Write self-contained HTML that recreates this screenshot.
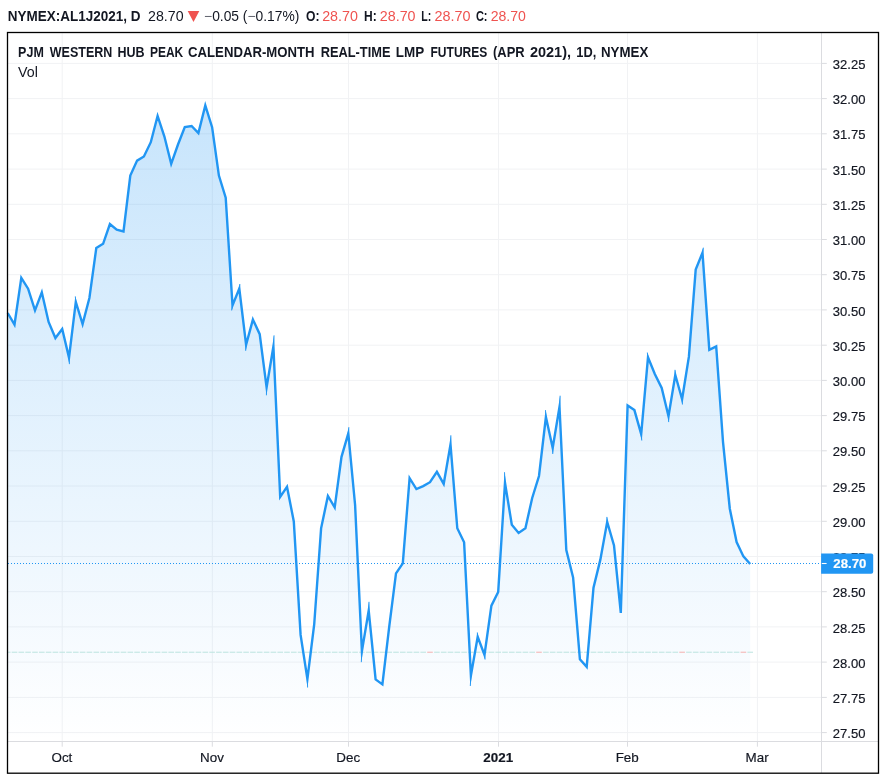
<!DOCTYPE html>
<html lang="en"><head><meta charset="utf-8"><title>NYMEX:AL1J2021</title>
<style>
html,body{margin:0;padding:0;background:#fff;}
body{width:887px;height:781px;overflow:hidden;font-family:"Liberation Sans",sans-serif;}
svg{display:block;will-change:transform}
text{font-family:"Liberation Sans",sans-serif;fill:#131722}
.b{font-weight:bold}
.r{fill:#ef5350}
.ax{font-size:13.4px;stroke:#131722;stroke-width:.18px}
.w{fill:#fff;stroke:#fff}
</style></head><body>
<svg width="887" height="781" viewBox="0 0 887 781">
<defs><linearGradient id="g" x1="0" y1="32" x2="0" y2="742" gradientUnits="userSpaceOnUse">
<stop offset="0" stop-color="#2196f3" stop-opacity="0.28"/><stop offset="1" stop-color="#2196f3" stop-opacity="0"/></linearGradient></defs>
<rect width="887" height="781" fill="#fff"/>

<g stroke="#f1f2f4" stroke-width="1" shape-rendering="auto">
<line x1="7.5" x2="821.5" y1="63.4" y2="63.4"/>
<line x1="7.5" x2="821.5" y1="98.6" y2="98.6"/>
<line x1="7.5" x2="821.5" y1="133.8" y2="133.8"/>
<line x1="7.5" x2="821.5" y1="169.1" y2="169.1"/>
<line x1="7.5" x2="821.5" y1="204.3" y2="204.3"/>
<line x1="7.5" x2="821.5" y1="239.5" y2="239.5"/>
<line x1="7.5" x2="821.5" y1="274.7" y2="274.7"/>
<line x1="7.5" x2="821.5" y1="309.9" y2="309.9"/>
<line x1="7.5" x2="821.5" y1="345.2" y2="345.2"/>
<line x1="7.5" x2="821.5" y1="380.4" y2="380.4"/>
<line x1="7.5" x2="821.5" y1="415.6" y2="415.6"/>
<line x1="7.5" x2="821.5" y1="450.8" y2="450.8"/>
<line x1="7.5" x2="821.5" y1="486.0" y2="486.0"/>
<line x1="7.5" x2="821.5" y1="521.3" y2="521.3"/>
<line x1="7.5" x2="821.5" y1="556.5" y2="556.5"/>
<line x1="7.5" x2="821.5" y1="591.7" y2="591.7"/>
<line x1="7.5" x2="821.5" y1="626.9" y2="626.9"/>
<line x1="7.5" x2="821.5" y1="662.1" y2="662.1"/>
<line x1="7.5" x2="821.5" y1="697.4" y2="697.4"/>
<line x1="7.5" x2="821.5" y1="732.6" y2="732.6"/>
<line x1="62.2" x2="62.2" y1="32.5" y2="741.5"/>
<line x1="212.3" x2="212.3" y1="32.5" y2="741.5"/>
<line x1="348.5" x2="348.5" y1="32.5" y2="741.5"/>
<line x1="498.5" x2="498.5" y1="32.5" y2="741.5"/>
<line x1="627.5" x2="627.5" y1="32.5" y2="741.5"/>
<line x1="757.4" x2="757.4" y1="32.5" y2="741.5"/>
</g>
<path d="M7.7,313.0 L14.5,324.7 L21.3,277.9 L28.1,288.7 L35.0,310.3 L41.8,292.3 L48.6,322.0 L55.4,338.0 L62.2,329.0 L69.0,357.6 L75.8,301.9 L82.6,324.0 L89.4,298.0 L96.3,248.0 L103.1,243.8 L109.9,224.0 L116.7,229.7 L123.5,231.4 L130.3,175.6 L137.1,160.6 L143.9,156.5 L150.8,142.2 L157.6,115.9 L164.4,136.5 L171.2,163.8 L178.0,144.5 L184.8,127.0 L191.6,126.0 L198.4,133.0 L205.3,105.4 L212.1,127.2 L218.9,175.6 L225.7,197.7 L232.5,305.4 L239.3,288.5 L246.1,344.8 L252.9,319.6 L259.7,334.2 L266.6,387.4 L273.4,346.5 L280.2,496.8 L287.0,486.8 L293.8,521.4 L300.6,634.9 L307.4,679.1 L314.2,624.5 L321.1,528.3 L327.9,496.0 L334.7,507.4 L341.5,456.8 L348.3,433.3 L355.1,505.0 L361.9,651.2 L368.7,610.6 L375.6,679.4 L382.4,684.4 L389.2,626.8 L396.0,573.4 L402.8,563.4 L409.6,478.2 L416.4,489.1 L423.2,486.1 L430.0,482.2 L436.9,471.8 L443.7,483.9 L450.5,444.5 L457.3,528.3 L464.1,542.2 L470.9,675.6 L477.7,636.8 L484.5,654.9 L491.4,605.7 L498.2,592.0 L505.0,482.7 L511.8,524.8 L518.6,532.9 L525.4,528.3 L532.2,498.0 L539.0,476.0 L545.9,417.0 L552.7,448.0 L559.5,406.8 L566.3,550.0 L573.1,577.5 L579.9,659.2 L586.7,666.9 L593.5,587.6 L600.3,559.9 L607.2,521.9 L614.0,545.4 L620.8,612.9 L627.6,405.4 L634.4,410.1 L641.2,434.2 L648.0,357.3 L654.8,374.0 L661.7,388.0 L668.5,416.3 L675.3,375.0 L682.1,399.2 L688.9,356.7 L695.7,269.6 L702.5,252.7 L709.3,349.8 L716.2,346.4 L723.0,441.8 L729.8,508.7 L736.6,542.1 L743.4,556.4 L750.2,564.0 L750.2,741.5 L7.7,741.5 Z" fill="url(#g)"/>
<g>
<rect x="7.5" y="651.7" width="3.0" height="1.05" fill="#bfe5e1"/>
<rect x="11.7" y="651.7" width="5.6" height="1.05" fill="#bfe5e1"/>
<rect x="18.5" y="651.7" width="5.6" height="1.05" fill="#bfe5e1"/>
<rect x="25.3" y="651.7" width="5.6" height="1.05" fill="#bfe5e1"/>
<rect x="32.2" y="651.7" width="5.6" height="1.05" fill="#bfe5e1"/>
<rect x="39.0" y="651.7" width="5.6" height="1.05" fill="#bfe5e1"/>
<rect x="45.8" y="651.7" width="5.6" height="1.05" fill="#bfe5e1"/>
<rect x="52.6" y="651.7" width="5.6" height="1.05" fill="#bfe5e1"/>
<rect x="59.4" y="651.7" width="5.6" height="1.05" fill="#bfe5e1"/>
<rect x="66.2" y="651.7" width="5.6" height="1.05" fill="#bfe5e1"/>
<rect x="73.0" y="651.7" width="5.6" height="1.05" fill="#bfe5e1"/>
<rect x="79.8" y="651.7" width="5.6" height="1.05" fill="#bfe5e1"/>
<rect x="86.6" y="651.7" width="5.6" height="1.05" fill="#bfe5e1"/>
<rect x="93.5" y="651.7" width="5.6" height="1.05" fill="#bfe5e1"/>
<rect x="100.3" y="651.7" width="5.6" height="1.05" fill="#bfe5e1"/>
<rect x="107.1" y="651.7" width="5.6" height="1.05" fill="#bfe5e1"/>
<rect x="113.9" y="651.7" width="5.6" height="1.05" fill="#bfe5e1"/>
<rect x="120.7" y="651.7" width="5.6" height="1.05" fill="#bfe5e1"/>
<rect x="127.5" y="651.7" width="5.6" height="1.05" fill="#bfe5e1"/>
<rect x="134.3" y="651.7" width="5.6" height="1.05" fill="#bfe5e1"/>
<rect x="141.1" y="651.7" width="5.6" height="1.05" fill="#bfe5e1"/>
<rect x="148.0" y="651.7" width="5.6" height="1.05" fill="#bfe5e1"/>
<rect x="154.8" y="651.7" width="5.6" height="1.05" fill="#bfe5e1"/>
<rect x="161.6" y="651.7" width="5.6" height="1.05" fill="#bfe5e1"/>
<rect x="168.4" y="651.7" width="5.6" height="1.05" fill="#bfe5e1"/>
<rect x="175.2" y="651.7" width="5.6" height="1.05" fill="#bfe5e1"/>
<rect x="182.0" y="651.7" width="5.6" height="1.05" fill="#bfe5e1"/>
<rect x="188.8" y="651.7" width="5.6" height="1.05" fill="#bfe5e1"/>
<rect x="195.6" y="651.7" width="5.6" height="1.05" fill="#bfe5e1"/>
<rect x="202.5" y="651.7" width="5.6" height="1.05" fill="#bfe5e1"/>
<rect x="209.3" y="651.7" width="5.6" height="1.05" fill="#bfe5e1"/>
<rect x="216.1" y="651.7" width="5.6" height="1.05" fill="#bfe5e1"/>
<rect x="222.9" y="651.7" width="5.6" height="1.05" fill="#bfe5e1"/>
<rect x="229.7" y="651.7" width="5.6" height="1.05" fill="#bfe5e1"/>
<rect x="236.5" y="651.7" width="5.6" height="1.05" fill="#bfe5e1"/>
<rect x="243.3" y="651.7" width="5.6" height="1.05" fill="#bfe5e1"/>
<rect x="250.1" y="651.7" width="5.6" height="1.05" fill="#bfe5e1"/>
<rect x="256.9" y="651.7" width="5.6" height="1.05" fill="#bfe5e1"/>
<rect x="263.8" y="651.7" width="5.6" height="1.05" fill="#bfe5e1"/>
<rect x="270.6" y="651.7" width="5.6" height="1.05" fill="#bfe5e1"/>
<rect x="277.4" y="651.7" width="5.6" height="1.05" fill="#bfe5e1"/>
<rect x="284.2" y="651.7" width="5.6" height="1.05" fill="#bfe5e1"/>
<rect x="291.0" y="651.7" width="5.6" height="1.05" fill="#bfe5e1"/>
<rect x="297.8" y="651.7" width="5.6" height="1.05" fill="#bfe5e1"/>
<rect x="304.6" y="651.7" width="5.6" height="1.05" fill="#bfe5e1"/>
<rect x="311.4" y="651.7" width="5.6" height="1.05" fill="#bfe5e1"/>
<rect x="318.3" y="651.7" width="5.6" height="1.05" fill="#bfe5e1"/>
<rect x="325.1" y="651.7" width="5.6" height="1.05" fill="#bfe5e1"/>
<rect x="331.9" y="651.7" width="5.6" height="1.05" fill="#bfe5e1"/>
<rect x="338.7" y="651.7" width="5.6" height="1.05" fill="#bfe5e1"/>
<rect x="345.5" y="651.7" width="5.6" height="1.05" fill="#bfe5e1"/>
<rect x="352.3" y="651.7" width="5.6" height="1.05" fill="#bfe5e1"/>
<rect x="359.1" y="651.7" width="5.6" height="1.05" fill="#bfe5e1"/>
<rect x="365.9" y="651.7" width="5.6" height="1.05" fill="#bfe5e1"/>
<rect x="372.8" y="651.7" width="5.6" height="1.05" fill="#bfe5e1"/>
<rect x="379.6" y="651.7" width="5.6" height="1.05" fill="#bfe5e1"/>
<rect x="386.4" y="651.7" width="5.6" height="1.05" fill="#bfe5e1"/>
<rect x="393.2" y="651.7" width="5.6" height="1.05" fill="#bfe5e1"/>
<rect x="400.0" y="651.7" width="5.6" height="1.05" fill="#bfe5e1"/>
<rect x="406.8" y="651.7" width="5.6" height="1.05" fill="#bfe5e1"/>
<rect x="413.6" y="651.7" width="5.6" height="1.05" fill="#bfe5e1"/>
<rect x="420.4" y="651.7" width="5.6" height="1.05" fill="#bfe5e1"/>
<rect x="427.2" y="651.7" width="5.6" height="1.05" fill="#f4b4b2"/>
<rect x="434.1" y="651.7" width="5.6" height="1.05" fill="#bfe5e1"/>
<rect x="440.9" y="651.7" width="5.6" height="1.05" fill="#bfe5e1"/>
<rect x="447.7" y="651.7" width="5.6" height="1.05" fill="#bfe5e1"/>
<rect x="454.5" y="651.7" width="5.6" height="1.05" fill="#bfe5e1"/>
<rect x="461.3" y="651.7" width="5.6" height="1.05" fill="#bfe5e1"/>
<rect x="468.1" y="651.7" width="5.6" height="1.05" fill="#bfe5e1"/>
<rect x="474.9" y="651.7" width="5.6" height="1.05" fill="#bfe5e1"/>
<rect x="481.7" y="651.7" width="5.6" height="1.05" fill="#bfe5e1"/>
<rect x="488.6" y="651.7" width="5.6" height="1.05" fill="#bfe5e1"/>
<rect x="495.4" y="651.7" width="5.6" height="1.05" fill="#bfe5e1"/>
<rect x="502.2" y="651.7" width="5.6" height="1.05" fill="#bfe5e1"/>
<rect x="509.0" y="651.7" width="5.6" height="1.05" fill="#bfe5e1"/>
<rect x="515.8" y="651.7" width="5.6" height="1.05" fill="#bfe5e1"/>
<rect x="522.6" y="651.7" width="5.6" height="1.05" fill="#bfe5e1"/>
<rect x="529.4" y="651.7" width="5.6" height="1.05" fill="#bfe5e1"/>
<rect x="536.2" y="651.7" width="5.6" height="1.05" fill="#f4b4b2"/>
<rect x="543.1" y="651.7" width="5.6" height="1.05" fill="#bfe5e1"/>
<rect x="549.9" y="651.7" width="5.6" height="1.05" fill="#bfe5e1"/>
<rect x="556.7" y="651.7" width="5.6" height="1.05" fill="#bfe5e1"/>
<rect x="563.5" y="651.7" width="5.6" height="1.05" fill="#bfe5e1"/>
<rect x="570.3" y="651.7" width="5.6" height="1.05" fill="#bfe5e1"/>
<rect x="577.1" y="651.7" width="5.6" height="1.05" fill="#bfe5e1"/>
<rect x="583.9" y="651.7" width="5.6" height="1.05" fill="#bfe5e1"/>
<rect x="590.7" y="651.7" width="5.6" height="1.05" fill="#bfe5e1"/>
<rect x="597.5" y="651.7" width="5.6" height="1.05" fill="#bfe5e1"/>
<rect x="604.4" y="651.7" width="5.6" height="1.05" fill="#bfe5e1"/>
<rect x="611.2" y="651.7" width="5.6" height="1.05" fill="#bfe5e1"/>
<rect x="618.0" y="651.7" width="5.6" height="1.05" fill="#bfe5e1"/>
<rect x="624.8" y="651.7" width="5.6" height="1.05" fill="#bfe5e1"/>
<rect x="631.6" y="651.7" width="5.6" height="1.05" fill="#bfe5e1"/>
<rect x="638.4" y="651.7" width="5.6" height="1.05" fill="#bfe5e1"/>
<rect x="645.2" y="651.7" width="5.6" height="1.05" fill="#bfe5e1"/>
<rect x="652.0" y="651.7" width="5.6" height="1.05" fill="#bfe5e1"/>
<rect x="658.9" y="651.7" width="5.6" height="1.05" fill="#bfe5e1"/>
<rect x="665.7" y="651.7" width="5.6" height="1.05" fill="#bfe5e1"/>
<rect x="672.5" y="651.7" width="5.6" height="1.05" fill="#bfe5e1"/>
<rect x="679.3" y="651.7" width="5.6" height="1.05" fill="#f4b4b2"/>
<rect x="686.1" y="651.7" width="5.6" height="1.05" fill="#bfe5e1"/>
<rect x="692.9" y="651.7" width="5.6" height="1.05" fill="#bfe5e1"/>
<rect x="699.7" y="651.7" width="5.6" height="1.05" fill="#bfe5e1"/>
<rect x="706.5" y="651.7" width="5.6" height="1.05" fill="#bfe5e1"/>
<rect x="713.4" y="651.7" width="5.6" height="1.05" fill="#bfe5e1"/>
<rect x="720.2" y="651.7" width="5.6" height="1.05" fill="#bfe5e1"/>
<rect x="727.0" y="651.7" width="5.6" height="1.05" fill="#bfe5e1"/>
<rect x="733.8" y="651.7" width="5.6" height="1.05" fill="#bfe5e1"/>
<rect x="740.6" y="651.7" width="5.6" height="1.05" fill="#f4b4b2"/>
<rect x="747.4" y="651.7" width="5.6" height="1.05" fill="#bfe5e1"/>
</g>
<line x1="8" x2="821.5" y1="563.5" y2="563.5" stroke="#2196f3" stroke-width="1.1" stroke-dasharray="1 2"/>
<path d="M7.7,313.0 L14.5,324.7 L21.3,277.9 L28.1,288.7 L35.0,310.3 L41.8,292.3 L48.6,322.0 L55.4,338.0 L62.2,329.0 L69.0,357.6 L75.8,301.9 L82.6,324.0 L89.4,298.0 L96.3,248.0 L103.1,243.8 L109.9,224.0 L116.7,229.7 L123.5,231.4 L130.3,175.6 L137.1,160.6 L143.9,156.5 L150.8,142.2 L157.6,115.9 L164.4,136.5 L171.2,163.8 L178.0,144.5 L184.8,127.0 L191.6,126.0 L198.4,133.0 L205.3,105.4 L212.1,127.2 L218.9,175.6 L225.7,197.7 L232.5,305.4 L239.3,288.5 L246.1,344.8 L252.9,319.6 L259.7,334.2 L266.6,387.4 L273.4,346.5 L280.2,496.8 L287.0,486.8 L293.8,521.4 L300.6,634.9 L307.4,679.1 L314.2,624.5 L321.1,528.3 L327.9,496.0 L334.7,507.4 L341.5,456.8 L348.3,433.3 L355.1,505.0 L361.9,651.2 L368.7,610.6 L375.6,679.4 L382.4,684.4 L389.2,626.8 L396.0,573.4 L402.8,563.4 L409.6,478.2 L416.4,489.1 L423.2,486.1 L430.0,482.2 L436.9,471.8 L443.7,483.9 L450.5,444.5 L457.3,528.3 L464.1,542.2 L470.9,675.6 L477.7,636.8 L484.5,654.9 L491.4,605.7 L498.2,592.0 L505.0,482.7 L511.8,524.8 L518.6,532.9 L525.4,528.3 L532.2,498.0 L539.0,476.0 L545.9,417.0 L552.7,448.0 L559.5,406.8 L566.3,550.0 L573.1,577.5 L579.9,659.2 L586.7,666.9 L593.5,587.6 L600.3,559.9 L607.2,521.9 L614.0,545.4 L620.8,612.9 L627.6,405.4 L634.4,410.1 L641.2,434.2 L648.0,357.3 L654.8,374.0 L661.7,388.0 L668.5,416.3 L675.3,375.0 L682.1,399.2 L688.9,356.7 L695.7,269.6 L702.5,252.7 L709.3,349.8 L716.2,346.4 L723.0,441.8 L729.8,508.7 L736.6,542.1 L743.4,556.4 L750.2,564.0" fill="none" stroke="#2196f3" stroke-width="2.4" stroke-linejoin="miter" stroke-miterlimit="10" stroke-linecap="butt"/>
<path d="M69.0,357.6 L69.4,364.1 M75.8,301.9 L75.3,296.4 M232.5,305.4 L231.7,310.4 M239.3,288.5 L239.9,284.0 M246.1,344.8 L245.7,350.8 M266.6,387.4 L266.4,395.3 M273.4,346.5 L274.0,335.4 M307.4,679.1 L307.6,687.5 M348.3,433.3 L348.9,427.2 M361.9,651.2 L361.3,662.2 M368.7,610.6 L369.0,601.8 M450.5,444.5 L450.9,435.3 M470.9,675.6 L470.3,686.0 M477.7,636.8 L477.3,632.5 M484.5,654.9 L485.1,659.5 M505.0,482.7 L504.5,472.2 M545.9,417.0 L545.5,410.1 M552.7,448.0 L552.8,454.0 M559.5,406.8 L560.1,395.7 M607.2,521.9 L606.9,516.9 M641.2,434.2 L641.8,440.5 M648.0,357.3 L647.3,352.6 M668.5,416.3 L668.7,422.1 M675.3,375.0 L675.0,369.8 M682.1,399.2 L682.4,404.5 M702.5,252.7 L703.3,247.7" fill="none" stroke="#2196f3" stroke-width="0.9" stroke-linecap="butt"/>
<g stroke="#dbdce0" stroke-width="1"><line x1="821.5" x2="821.5" y1="32.5" y2="773.2"/><line x1="7.5" x2="878.5" y1="741.5" y2="741.5"/>
<line x1="821.5" x2="826.8" y1="63.4" y2="63.4"/>
<line x1="821.5" x2="826.8" y1="98.6" y2="98.6"/>
<line x1="821.5" x2="826.8" y1="133.8" y2="133.8"/>
<line x1="821.5" x2="826.8" y1="169.1" y2="169.1"/>
<line x1="821.5" x2="826.8" y1="204.3" y2="204.3"/>
<line x1="821.5" x2="826.8" y1="239.5" y2="239.5"/>
<line x1="821.5" x2="826.8" y1="274.7" y2="274.7"/>
<line x1="821.5" x2="826.8" y1="309.9" y2="309.9"/>
<line x1="821.5" x2="826.8" y1="345.2" y2="345.2"/>
<line x1="821.5" x2="826.8" y1="380.4" y2="380.4"/>
<line x1="821.5" x2="826.8" y1="415.6" y2="415.6"/>
<line x1="821.5" x2="826.8" y1="450.8" y2="450.8"/>
<line x1="821.5" x2="826.8" y1="486.0" y2="486.0"/>
<line x1="821.5" x2="826.8" y1="521.3" y2="521.3"/>
<line x1="821.5" x2="826.8" y1="556.5" y2="556.5"/>
<line x1="821.5" x2="826.8" y1="591.7" y2="591.7"/>
<line x1="821.5" x2="826.8" y1="626.9" y2="626.9"/>
<line x1="821.5" x2="826.8" y1="662.1" y2="662.1"/>
<line x1="821.5" x2="826.8" y1="697.4" y2="697.4"/>
<line x1="821.5" x2="826.8" y1="732.6" y2="732.6"/>
<line x1="62.2" x2="62.2" y1="741.5" y2="746.7"/>
<line x1="212.3" x2="212.3" y1="741.5" y2="746.7"/>
<line x1="348.5" x2="348.5" y1="741.5" y2="746.7"/>
<line x1="498.5" x2="498.5" y1="741.5" y2="746.7"/>
<line x1="627.5" x2="627.5" y1="741.5" y2="746.7"/>
<line x1="757.4" x2="757.4" y1="741.5" y2="746.7"/>
</g>
<text class="ax" x="832.8" y="69.0" textLength="32.6" lengthAdjust="spacingAndGlyphs">32.25</text>
<text class="ax" x="832.8" y="104.2" textLength="32.6" lengthAdjust="spacingAndGlyphs">32.00</text>
<text class="ax" x="832.8" y="139.4" textLength="32.6" lengthAdjust="spacingAndGlyphs">31.75</text>
<text class="ax" x="832.8" y="174.7" textLength="32.6" lengthAdjust="spacingAndGlyphs">31.50</text>
<text class="ax" x="832.8" y="209.9" textLength="32.6" lengthAdjust="spacingAndGlyphs">31.25</text>
<text class="ax" x="832.8" y="245.1" textLength="32.6" lengthAdjust="spacingAndGlyphs">31.00</text>
<text class="ax" x="832.8" y="280.3" textLength="32.6" lengthAdjust="spacingAndGlyphs">30.75</text>
<text class="ax" x="832.8" y="315.5" textLength="32.6" lengthAdjust="spacingAndGlyphs">30.50</text>
<text class="ax" x="832.8" y="350.8" textLength="32.6" lengthAdjust="spacingAndGlyphs">30.25</text>
<text class="ax" x="832.8" y="386.0" textLength="32.6" lengthAdjust="spacingAndGlyphs">30.00</text>
<text class="ax" x="832.8" y="421.2" textLength="32.6" lengthAdjust="spacingAndGlyphs">29.75</text>
<text class="ax" x="832.8" y="456.4" textLength="32.6" lengthAdjust="spacingAndGlyphs">29.50</text>
<text class="ax" x="832.8" y="491.6" textLength="32.6" lengthAdjust="spacingAndGlyphs">29.25</text>
<text class="ax" x="832.8" y="526.9" textLength="32.6" lengthAdjust="spacingAndGlyphs">29.00</text>
<text class="ax" x="832.8" y="562.1" textLength="32.6" lengthAdjust="spacingAndGlyphs">28.75</text>
<text class="ax" x="832.8" y="597.3" textLength="32.6" lengthAdjust="spacingAndGlyphs">28.50</text>
<text class="ax" x="832.8" y="632.5" textLength="32.6" lengthAdjust="spacingAndGlyphs">28.25</text>
<text class="ax" x="832.8" y="667.7" textLength="32.6" lengthAdjust="spacingAndGlyphs">28.00</text>
<text class="ax" x="832.8" y="703.0" textLength="32.6" lengthAdjust="spacingAndGlyphs">27.75</text>
<text class="ax" x="832.8" y="738.2" textLength="32.6" lengthAdjust="spacingAndGlyphs">27.50</text>
<path d="M821.1,553.6 H871.2 Q873.2,553.6 873.2,555.6 V571.7 Q873.2,573.7 871.2,573.7 H821.1 Z" fill="#2196f3"/>
<line x1="821.8" x2="826.6" y1="563.5" y2="563.5" stroke="#fff" stroke-width="1.1"/>
<text class="ax b w" x="833.3" y="568.4" textLength="33" lengthAdjust="spacingAndGlyphs">28.70</text>
<text class="ax" x="61.900000000000006" y="761.5" text-anchor="middle">Oct</text>
<text class="ax" x="212.0" y="761.5" text-anchor="middle">Nov</text>
<text class="ax" x="348.2" y="761.5" text-anchor="middle">Dec</text>
<text class="ax b" x="498.2" y="761.5" text-anchor="middle">2021</text>
<text class="ax" x="627.2" y="761.5" text-anchor="middle">Feb</text>
<text class="ax" x="757.1" y="761.5" text-anchor="middle">Mar</text>
<rect x="7.5" y="32.5" width="871.0" height="740.7" fill="none" stroke="#000" stroke-width="1.3"/>
<text y="20.6"><tspan x="7.7" class="b" font-size="13.9" textLength="132.7" lengthAdjust="spacingAndGlyphs">NYMEX:AL1J2021, D</tspan> <tspan x="148.1" font-size="13.8" textLength="35.5" lengthAdjust="spacingAndGlyphs">28.70</tspan> <tspan x="204.1" font-size="13.8" textLength="95.2" lengthAdjust="spacingAndGlyphs"><tspan fill="#5d606b">−</tspan>0.05 (<tspan fill="#5d606b">−</tspan>0.17%)</tspan> <tspan x="306" class="b" font-size="13.9" textLength="13.5" lengthAdjust="spacingAndGlyphs">O:</tspan> <tspan x="322.2" class="r" font-size="13.8" textLength="35.7" lengthAdjust="spacingAndGlyphs">28.70</tspan> <tspan x="364.1" class="b" font-size="13.9" textLength="12.7" lengthAdjust="spacingAndGlyphs">H:</tspan> <tspan x="379.8" class="r" font-size="13.8" textLength="35.7" lengthAdjust="spacingAndGlyphs">28.70</tspan> <tspan x="421.2" class="b" font-size="13.9" textLength="10" lengthAdjust="spacingAndGlyphs">L:</tspan> <tspan x="434.5" class="r" font-size="13.8" textLength="36" lengthAdjust="spacingAndGlyphs">28.70</tspan> <tspan x="475.9" class="b" font-size="13.9" textLength="11.6" lengthAdjust="spacingAndGlyphs">C:</tspan> <tspan x="490.7" class="r" font-size="13.8" textLength="35.2" lengthAdjust="spacingAndGlyphs">28.70</tspan></text>
<path d="M187.7,11.1 L199.3,11.1 L193.5,21.9 Z" fill="#ef5350"/>
<text y="56.6" class="b"><tspan x="18.1" font-size="14.3" textLength="25.7" lengthAdjust="spacingAndGlyphs">PJM</tspan> <tspan x="49.8" font-size="14.3" textLength="62.5" lengthAdjust="spacingAndGlyphs">WESTERN</tspan> <tspan x="117.4" font-size="14.3" textLength="27.1" lengthAdjust="spacingAndGlyphs">HUB</tspan> <tspan x="149.9" font-size="14.3" textLength="33.3" lengthAdjust="spacingAndGlyphs">PEAK</tspan> <tspan x="188.1" font-size="14.3" textLength="126.4" lengthAdjust="spacingAndGlyphs">CALENDAR-MONTH</tspan> <tspan x="320.7" font-size="14.3" textLength="69.8" lengthAdjust="spacingAndGlyphs">REAL-TIME</tspan> <tspan x="395.8" font-size="14.3" textLength="28.4" lengthAdjust="spacingAndGlyphs">LMP</tspan> <tspan x="430.5" font-size="14.3" textLength="56.8" lengthAdjust="spacingAndGlyphs">FUTURES</tspan> <tspan x="493" font-size="14.3" textLength="31.6" lengthAdjust="spacingAndGlyphs">(APR</tspan> <tspan x="529.9" font-size="14.3" textLength="41.1" lengthAdjust="spacingAndGlyphs">2021),</tspan> <tspan x="576.3" font-size="14.3" textLength="19.9" lengthAdjust="spacingAndGlyphs">1D,</tspan> <tspan x="601" font-size="14.3" textLength="47.3" lengthAdjust="spacingAndGlyphs">NYMEX</tspan></text>
<text y="76.6"><tspan x="18.1" font-size="13.8" textLength="19.8" lengthAdjust="spacingAndGlyphs">Vol</tspan></text>
</svg></body></html>
